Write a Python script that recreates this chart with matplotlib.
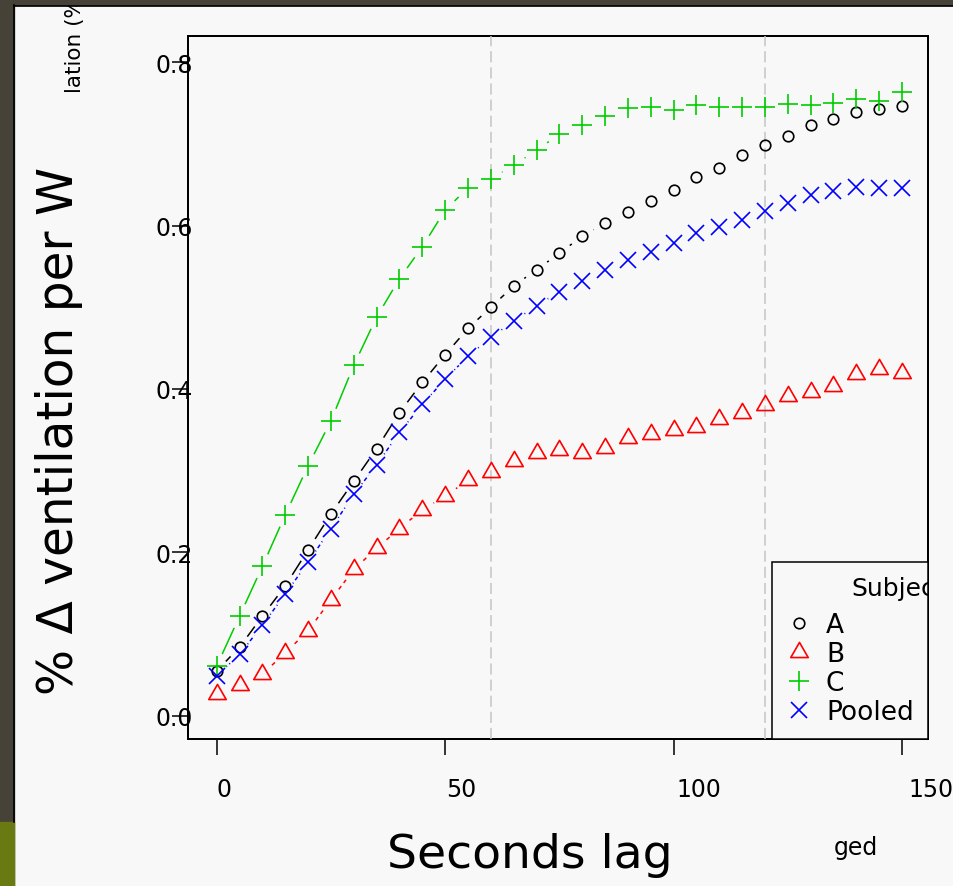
import numpy as np
import matplotlib
matplotlib.use("Agg")
import matplotlib.pyplot as plt
from matplotlib.collections import LineCollection
from matplotlib.patches import Rectangle
from matplotlib.lines import Line2D
from matplotlib.path import Path
from matplotlib.transforms import offset_copy

# lag in seconds
lag = [0, 5, 10, 15, 20, 25, 30, 35, 40, 45, 50, 55, 60, 65, 70, 75,
       80, 85, 90, 95, 100, 105, 110, 115, 120, 125, 130, 135, 140, 145, 150]

subj_a = [0.055, 0.084, 0.122, 0.159, 0.203, 0.247, 0.287, 0.327, 0.371, 0.408,
          0.442, 0.474, 0.500, 0.526, 0.546, 0.566, 0.587, 0.603, 0.617, 0.630,
          0.644, 0.659, 0.671, 0.686, 0.699, 0.710, 0.723, 0.731, 0.739, 0.743, 0.746]
subj_b = [0.026, 0.037, 0.051, 0.077, 0.104, 0.142, 0.179, 0.205, 0.229, 0.252,
          0.269, 0.288, 0.298, 0.312, 0.322, 0.325, 0.322, 0.328, 0.340, 0.345,
          0.350, 0.354, 0.363, 0.371, 0.380, 0.391, 0.396, 0.404, 0.418, 0.425, 0.419]
subj_c = [0.061, 0.122, 0.183, 0.246, 0.306, 0.361, 0.429, 0.488, 0.535, 0.574,
          0.619, 0.646, 0.657, 0.674, 0.692, 0.712, 0.723, 0.734, 0.744, 0.745,
          0.742, 0.747, 0.745, 0.745, 0.745, 0.749, 0.748, 0.750, 0.755, 0.752, 0.764]
pooled = [0.049, 0.075, 0.111, 0.149, 0.188, 0.229, 0.271, 0.307, 0.347, 0.381,
          0.412, 0.440, 0.463, 0.483, 0.502, 0.519, 0.532, 0.546, 0.558, 0.567,
          0.579, 0.591, 0.598, 0.607, 0.618, 0.627, 0.637, 0.642, 0.647, 0.646, 0.646]

labels = ["A", "B", "C", "Pooled"]
ref_lags = [60, 120]
x_ticks = [0, 50, 100, 150]
y_ticks = [0.0, 0.2, 0.4, 0.6, 0.8]

BG = "#f8f8f8"
DARK = "#464238"
OLIVE = "#6a7a12"

plt.rcParams["lines.scale_dashes"] = False
plt.rcParams["font.family"] = ["DejaVu Sans"]

# equilateral triangle centred on its centroid (like R pch 2)
tri = Path([(0, 0.577), (-0.5, -0.289), (0.5, -0.289), (0, 0.577)],
           [Path.MOVETO, Path.LINETO, Path.LINETO, Path.CLOSEPOLY])

styles = [
    dict(color="black", marker="o", ms=7.6, ls="-"),
    dict(color="#ff0000", marker=tri, ms=14.5, ls=(0, (2.9, 2.9))),
    dict(color="#00cd00", marker="+", ms=15.0, ls="-"),
    dict(color="#0000ff", marker="x", ms=11.5, ls=(0, (0.7, 2.2, 2.9, 2.2))),
]


def gapped_segments(ax, xs, ys, gap=13.0):
    # R type="b": segments stop short of each point
    pts = ax.transData.transform(np.column_stack([xs, ys]))
    inv = ax.transData.inverted()
    segs = []
    for p0, p1 in zip(pts[:-1], pts[1:]):
        d = p1 - p0
        length = np.hypot(d[0], d[1])
        if length > 2 * gap:
            u = d / length
            segs.append(inv.transform([p0 + u * gap, p1 - u * gap]))
    return segs


fig = plt.figure(figsize=(9.54, 8.87), dpi=100, facecolor=BG)
ax = fig.add_axes([188 / 954, 1 - 740 / 887, 740 / 954, 703 / 887])
ax.set_facecolor(BG)
ax.set_xlim(-6.3, 155.7)
ax.set_ylim(-0.0285, 0.832)

for name, vals, st in zip(labels, [subj_a, subj_b, subj_c, pooled], styles):
    segs = gapped_segments(ax, lag, vals)
    ax.add_collection(LineCollection(segs, colors=st["color"], linewidths=1.1,
                                     linestyles=st["ls"], zorder=3))
    ax.plot(lag, vals, ls="none", marker=st["marker"], ms=st["ms"], mfc="none",
            mec=st["color"], mew=1.2, label=name, zorder=4)

for xv in ref_lags:
    ax.axvline(xv, color="#c4c4c4", lw=1.1, ls=(0, (8, 3.6)), zorder=3)

for sp in ax.spines.values():
    sp.set_linewidth(1.44)

ax.set_xticks(x_ticks)
ax.tick_params(axis="x", length=11.5, width=1.1, labelbottom=False)
ax.set_yticks(y_ticks)
ax.set_yticklabels([f"{v:.1f}" for v in y_ticks])
ax.tick_params(axis="y", length=11.5, width=1.1, pad=-15, labelsize=17)

# x tick labels sit a little to the right of their ticks in the original
for t, dx in zip(x_ticks, [7, 16, 25, 29]):
    tr = offset_copy(ax.get_xaxis_transform(), fig=fig, x=dx * 0.72, y=-57 * 0.72,
                     units="points")
    ax.text(t, 0, str(t), transform=tr, ha="center", va="baseline", fontsize=17)

leg = ax.legend(loc="lower right", bbox_to_anchor=(1, 0), borderaxespad=0,
                fancybox=False, edgecolor="black", facecolor=BG, framealpha=1,
                fontsize=19, handlelength=1.0, handletextpad=0.51, borderpad=0.54,
                labelspacing=0.11, title=" ", title_fontsize=23.5)
leg.get_frame().set_linewidth(1.1)
ax.text(0.897, 0.2148, "Subject", transform=ax.transAxes, fontsize=18,
        ha="left", va="center", clip_on=True, zorder=6)

fig.text(73 / 954, 1 - 431 / 887, "% Δ ventilation per W", rotation=90,
         rotation_mode="anchor", ha="center", va="baseline", fontsize=35)
fig.text(530 / 954, 1 - 868 / 887, "Seconds lag", ha="center", va="baseline",
         fontsize=34)
fig.text(81 / 954, 1 - 93 / 887, "lation (%)", rotation=90, rotation_mode="anchor",
         ha="left", va="baseline", fontsize=15.5, zorder=1)
fig.text(834 / 954, 1 - 855 / 887, "ged", ha="left", va="baseline", fontsize=17)

# window frame around the screenshot
fig.add_artist(Rectangle((0, 0), 14 / 954, 1, transform=fig.transFigure,
                         color=DARK, zorder=10))
fig.add_artist(Rectangle((0, 1 - 6 / 887), 1, 6 / 887, transform=fig.transFigure,
                         color=DARK, zorder=10))
fig.add_artist(Rectangle((0, 0), 14 / 954, 64 / 887, transform=fig.transFigure,
                         color=OLIVE, zorder=11))
fig.add_artist(Line2D([14.5 / 954, 14.5 / 954], [64 / 887, 1 - 6 / 887],
                      transform=fig.transFigure, color="black", lw=1.2, zorder=12))
fig.add_artist(Line2D([14 / 954, 1], [1 - 6.5 / 887, 1 - 6.5 / 887],
                      transform=fig.transFigure, color="black", lw=1.2, zorder=12))

fig.savefig("out.png", dpi=100, facecolor=BG)
